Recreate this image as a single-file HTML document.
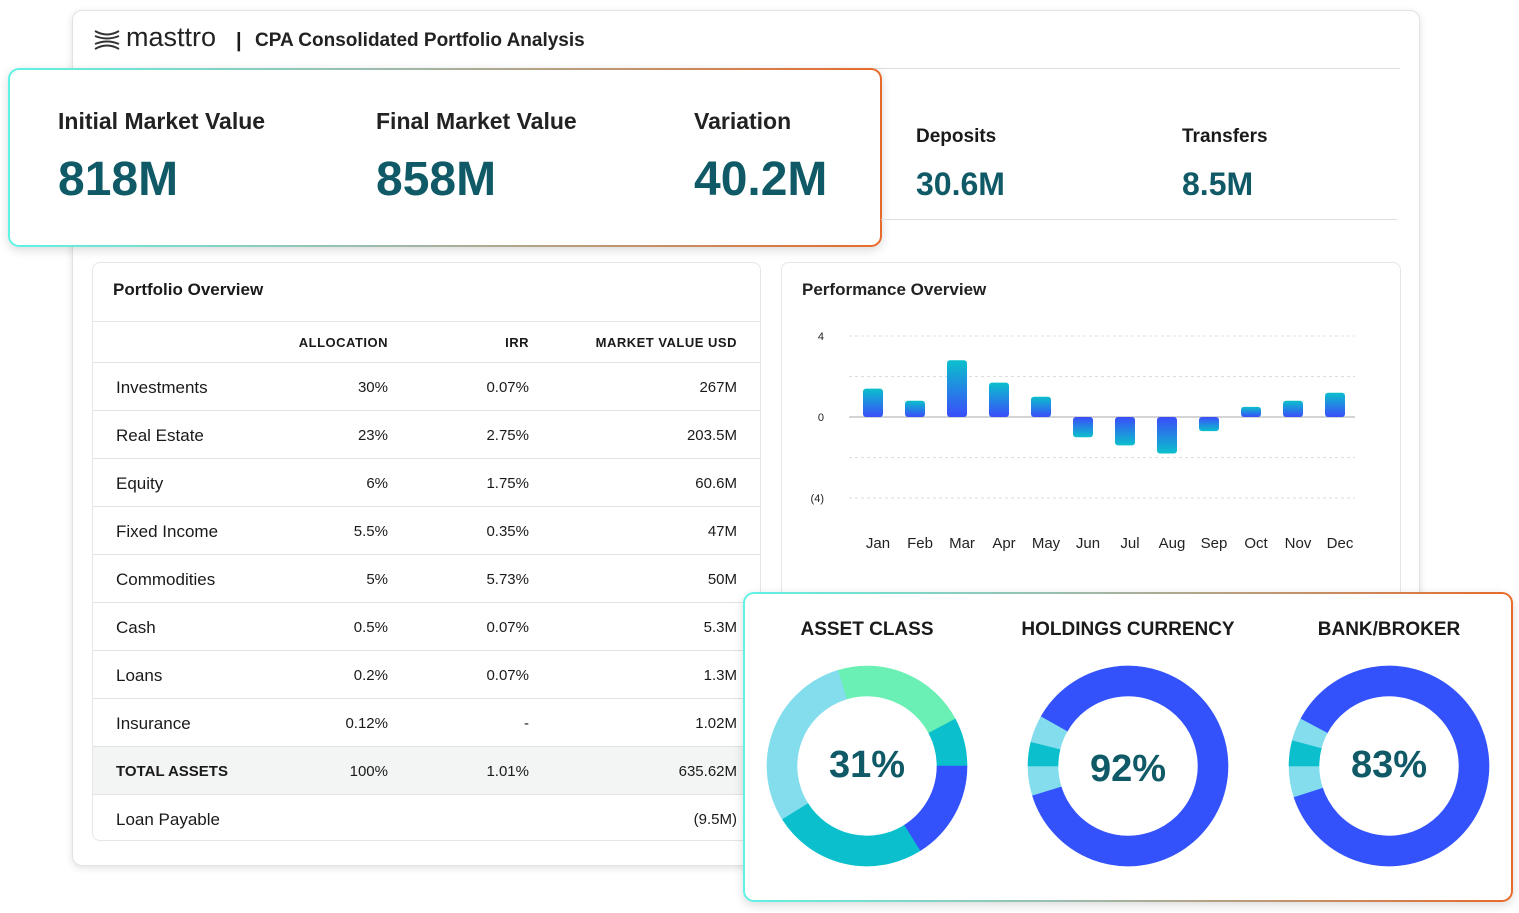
<!DOCTYPE html>
<html><head><meta charset="utf-8"><style>
*{box-sizing:border-box;margin:0;padding:0}
body{width:1519px;height:913px;background:#fff;font-family:"Liberation Sans",sans-serif;position:relative;overflow:hidden;color:#1a1a1a}
.abs{position:absolute}
.main{left:72px;top:10px;width:1348px;height:856px;border:1px solid #e2e2e2;border-radius:10px;background:#fff;box-shadow:0 2px 8px rgba(0,0,0,.12)}
.grad{border-radius:11px;padding:2px;background:linear-gradient(90deg,#5ff3e6,#9fb8a8 45%,#e86a2a);box-shadow:0 3px 10px rgba(0,0,0,.15)}
.inner{background:#fff;border-radius:9px;width:100%;height:100%;position:relative}
.kl{font-size:23px;font-weight:bold;color:#222}
.kv{font-size:48px;font-weight:bold;color:#0f5a66}
.card{border:1px solid #e6e6e6;border-radius:8px;background:#fff}
.row{position:absolute;left:0;width:668px;height:48px;border-top:1px solid #e3e3e3;font-size:17px}
.row span{position:absolute;top:15px}
.c0{left:23px}.c1{right:373px}.c2{right:232px}.c3{right:24px}
.hd{font-size:13px;font-weight:bold;letter-spacing:.5px}
</style></head><body>
<div class="abs main"></div>
<div class="abs" style="left:92px;top:26px;width:30px;height:28px">
<svg width="30" height="28"><g stroke="#333" stroke-width="2" fill="none"><path d="M3 5 Q15 12 27 5"/><path d="M3 10 Q15 15 27 10"/><path d="M3 18 Q15 13 27 18"/><path d="M3 23 Q15 16 27 23"/></g></svg></div>
<div class="abs" style="left:126px;top:22px;font-size:27px;color:#222">masttro</div>
<div class="abs" style="left:236px;top:30px;font-size:20px;font-weight:bold">|</div>
<div class="abs" style="left:255px;top:30px;font-size:19px;font-weight:bold;color:#222">CPA Consolidated Portfolio Analysis</div>
<div class="abs" style="left:92px;top:68px;width:1308px;height:1px;background:#ddd"></div>

<div class="abs grad" style="left:8px;top:68px;width:874px;height:179px"><div class="inner">
<div class="abs kl" style="left:48px;top:38px">Initial Market Value</div>
<div class="abs kv" style="left:48px;top:82px">818M</div>
<div class="abs kl" style="left:366px;top:38px">Final Market Value</div>
<div class="abs kv" style="left:366px;top:82px">858M</div>
<div class="abs kl" style="left:684px;top:38px">Variation</div>
<div class="abs kv" style="left:684px;top:82px">40.2M</div>
</div></div>

<div class="abs" style="left:916px;top:126px;font-size:19px;font-weight:bold">Deposits</div>
<div class="abs" style="left:916px;top:166px;font-size:32px;font-weight:bold;color:#0f5a66">30.6M</div>
<div class="abs" style="left:1182px;top:126px;font-size:19px;font-weight:bold">Transfers</div>
<div class="abs" style="left:1182px;top:166px;font-size:32px;font-weight:bold;color:#0f5a66">8.5M</div>
<div class="abs" style="left:881px;top:219px;width:516px;height:1px;background:#ddd"></div>

<div class="abs card" style="left:92px;top:262px;width:669px;height:579px">
<div class="abs" style="left:20px;top:17px;font-size:17px;font-weight:bold">Portfolio Overview</div>
<div class="row" style="top:58px;height:41px"><span class="c1 hd" style="top:13px">ALLOCATION</span><span class="c2 hd" style="top:13px">IRR</span><span class="c3 hd" style="top:13px">MARKET VALUE USD</span></div>
<div id="rows"></div>
</div>

<div class="abs card" style="left:781px;top:262px;width:620px;height:340px">
<div class="abs" style="left:20px;top:17px;font-size:17px;font-weight:bold;color:#222">Performance Overview</div>
</div>
<svg class="abs" id="bar" style="left:0;top:0" width="1519" height="600">
<defs><linearGradient id="gp" x1="0" y1="0" x2="0" y2="1"><stop offset="0" stop-color="#0bc0cc"/><stop offset="1" stop-color="#3a4dfa"/></linearGradient>
<linearGradient id="gn" x1="0" y1="0" x2="0" y2="1"><stop offset="0" stop-color="#3a4dfa"/><stop offset="1" stop-color="#0bc0cc"/></linearGradient></defs>
</svg>

<div class="abs grad" style="left:743px;top:592px;width:770px;height:310px"><div class="inner"></div></div>
<svg class="abs" id="don" style="left:743px;top:592px" width="770" height="310"></svg>

<script>
const NS="http://www.w3.org/2000/svg";
// Table data
const assetNames=["Investments","Real Estate","Equity","Fixed Income","Commodities","Cash","Loans","Insurance","TOTAL ASSETS","Loan Payable"];
const allocations=["30%","23%","6%","5.5%","5%","0.5%","0.2%","0.12%","100%",""];
const irrs=["0.07%","2.75%","1.75%","0.35%","5.73%","0.07%","0.07%","-","1.01%",""];
const marketValues=["267M","203.5M","60.6M","47M","50M","5.3M","1.3M","1.02M","635.62M","(9.5M)"];
const rows=document.getElementById('rows');
assetNames.forEach((n,i)=>{
  const r=document.createElement('div');r.className='row';r.style.top=(99+i*48)+'px';
  
  
  if(n==="TOTAL ASSETS"){r.style.background='#f3f4f4';}
  const bold=n==="TOTAL ASSETS";
  r.innerHTML=`<span class="c0" style="${bold?'font-weight:bold;font-size:15px;top:16px':''}">${n}</span><span class="c1" style="font-size:15px;top:16px">${allocations[i]}</span><span class="c2" style="font-size:15px;top:16px">${irrs[i]}</span><span class="c3" style="font-size:15px;top:16px">${marketValues[i]}</span>`;
  rows.appendChild(r);
});
// Bar chart data
const months=["Jan","Feb","Mar","Apr","May","Jun","Jul","Aug","Sep","Oct","Nov","Dec"];
const perf=[1.4,0.8,2.8,1.7,1.0,-1.0,-1.4,-1.8,-0.7,0.5,0.8,1.2];
const yTicks=[4,2,0,-2,-4];
const yTickLabels={"4":"4","0":"0","-4":"(4)"};
const svg=document.getElementById('bar');
const y=v=>417-v*20.25;
const x=i=>873+i*42;
function el(t,a,p){const e=document.createElementNS(NS,t);for(const k in a)e.setAttribute(k,a[k]);(p||svg).appendChild(e);return e;}
yTicks.forEach(t=>{
  const l=el('line',{x1:849,x2:1355,y1:y(t),y2:y(t),stroke:t===0?'#bbb':'#ddd','stroke-dasharray':t===0?'':'3,3','stroke-width':t===0?1.2:1});
  
  
  if(yTickLabels[t]){const tx=el('text',{x:824,y:y(t)+4,'text-anchor':'end','font-size':11,fill:'#222'});tx.textContent=yTickLabels[t];
  
  }
});
perf.forEach((v,i)=>{
  const top=Math.min(y(v),y(0)),h=Math.abs(y(v)-y(0));
  const b=el('rect',{x:x(i)-10,y:top,width:20,height:h,rx:3,fill:v>=0?'url(#gp)':'url(#gn)'});
  
  
  const t=el('text',{x:x(i)+5,y:548,'text-anchor':'middle','font-size':15,fill:'#222'});t.textContent=months[i];
  
  
});
// Donuts (segment spans in degrees clockwise from top)
const donutTitles=["ASSET CLASS","HOLDINGS CURRENCY","BANK/BROKER"];
const donutCenters=["31%","92%","83%"];
const donut1=[[-17,62,"#6aefb4"],[62,90,"#0bbfcc"],[90,148,"#3352fb"],[148,238,"#0bbfcc"],[238,343,"#83dded"]];
const donut2=[[-61,253,"#3352fb"],[253,270,"#83dded"],[270,284,"#0bbfcc"],[284,299.5,"#83dded"]];
const donut3=[[-62.5,252,"#3352fb"],[252,270,"#83dded"],[270,285,"#0bbfcc"],[285,298,"#83dded"]];
const donuts=[donut1,donut2,donut3];
const dsvg=document.getElementById('don');
const cx=[124,385,646],cy=174,R=100,r=70;
function pt(a,rr,c){const t=(a-90)*Math.PI/180;return [c+rr*Math.cos(t),cy+rr*Math.sin(t)];}
donuts.forEach((segs,k)=>{
  segs.forEach(([a0,a1,col])=>{
    const [x1,y1]=pt(a0,R,cx[k]),[x2,y2]=pt(a1,R,cx[k]),[x3,y3]=pt(a1,r,cx[k]),[x4,y4]=pt(a0,r,cx[k]);
    const lg=(a1-a0)>180?1:0;
    const p=el('path',{d:`M${x1} ${y1}A${R} ${R} 0 ${lg} 1 ${x2} ${y2}L${x3} ${y3}A${r} ${r} 0 ${lg} 0 ${x4} ${y4}Z`,fill:col,stroke:col,'stroke-width':0.6},dsvg);
    
    
  });
  const t=el('text',{x:cx[k],y:43,'text-anchor':'middle','font-size':19,'font-weight':'bold',fill:'#1a1a1a'},dsvg);t.textContent=donutTitles[k];
  
  
  const c=el('text',{x:cx[k],y:cy+(k==1?15:11),'text-anchor':'middle','font-size':38,'font-weight':'bold',fill:'#0f5a66'},dsvg);c.textContent=donutCenters[k];
  
  
});
</script>
</body></html>
